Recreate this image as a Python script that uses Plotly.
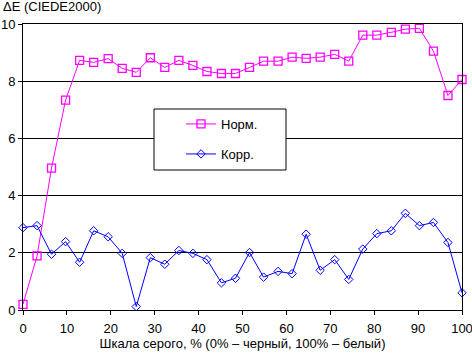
import plotly.graph_objects as go

gray_levels = [0, 3.2, 6.5, 9.7, 12.9, 16.1, 19.4, 22.6, 25.8, 29.0, 32.3, 35.5, 38.7, 41.9, 45.2, 48.4,
               51.6, 54.8, 58.1, 61.3, 64.5, 67.7, 71.0, 74.2, 77.4, 80.6, 83.9, 87.1, 90.3, 93.5, 96.8, 100]
norm_de = [0.20, 1.89, 4.96, 7.34, 8.73, 8.66, 8.79, 8.45, 8.31, 8.82, 8.48, 8.73, 8.55, 8.34, 8.27, 8.27,
           8.48, 8.70, 8.70, 8.84, 8.80, 8.84, 8.94, 8.70, 9.61, 9.61, 9.71, 9.82, 9.85, 9.05, 7.50, 8.06]
corr_de = [2.88, 2.95, 1.95, 2.39, 1.67, 2.77, 2.56, 1.98, 0.12, 1.83, 1.60, 2.08, 1.98, 1.76, 0.95, 1.11,
           2.01, 1.15, 1.35, 1.27, 2.65, 1.39, 1.76, 1.07, 2.13, 2.67, 2.77, 3.38, 2.95, 3.06, 2.36, 0.60]
x_ticks = [0, 10, 20, 30, 40, 50, 60, 70, 80, 90, 100]
y_ticks = [0, 2, 4, 6, 8, 10]

FONT = "Liberation Sans, Arial, sans-serif"
MAGENTA = "#FF00FF"
BLUE = "#0000FF"

W, H = 472, 353
L, R, T, B = 23, 10, 24, 43
pw, ph = W - L - R, H - T - B

def px2paper_x(px):
    return (px - L) / pw

def px2paper_y(py):
    return (H - B - py) / ph

fig = go.Figure()
fig.add_trace(go.Scatter(
    x=gray_levels, y=norm_de, mode="lines+markers", name="Норм.",
    line=dict(color=MAGENTA, width=1),
    marker=dict(symbol="square-open", size=8, color=MAGENTA, line=dict(width=1.3, color=MAGENTA)),
    legend="legend", cliponaxis=False,
))
fig.add_trace(go.Scatter(
    x=gray_levels, y=corr_de, mode="lines+markers", name="Корр.",
    line=dict(color=BLUE, width=1),
    marker=dict(symbol="diamond-open", size=6.5, color=BLUE, line=dict(width=1, color=BLUE)),
    legend="legend2", cliponaxis=False,
))

# legend frame
fig.add_shape(type="rect", xref="paper", yref="paper",
              x0=px2paper_x(154), x1=px2paper_x(286), y0=px2paper_y(170), y1=px2paper_y(109),
              line=dict(color="black", width=1), fillcolor="white", layer="above")

leg_common = dict(bgcolor="rgba(0,0,0,0)", borderwidth=0, font=dict(family=FONT, size=13, color="black"),
                  xanchor="left", yanchor="middle", itemwidth=30)
fig.update_layout(
    legend=dict(x=px2paper_x(181), y=px2paper_y(124), **leg_common),
    legend2=dict(x=px2paper_x(181), y=px2paper_y(154), **leg_common),
)

fig.add_annotation(text="ΔE (CIEDE2000)", xref="paper", yref="paper",
                   x=px2paper_x(1), y=px2paper_y(6), xanchor="left", yanchor="middle",
                   showarrow=False, font=dict(family=FONT, size=13, color="black"))

fig.update_xaxes(range=[0, 100], tickvals=x_ticks, showgrid=False, showline=True, linecolor="black",
                 linewidth=1, mirror=True, ticks="outside", ticklen=4, tickcolor="black", zeroline=False,
                 ticklabeloverflow="allow", ticklabelstandoff=2,
                 tickfont=dict(family=FONT, size=13, color="black"),
                 title=dict(text="Шкала серого, % (0% – черный, 100% – белый)",
                            font=dict(family=FONT, size=13, color="black"), standoff=2))
fig.update_yaxes(range=[0, 10], tickvals=y_ticks, showgrid=True, gridcolor="black", gridwidth=1,
                 showline=True, linecolor="black", linewidth=1, mirror=True, ticks="outside", ticklen=4,
                 ticklabeloverflow="allow",
                 tickcolor="black", zeroline=False, tickfont=dict(family=FONT, size=13, color="black"))

fig.update_layout(
    width=W, height=H, margin=dict(l=L, r=R, t=T, b=B, autoexpand=False),
    paper_bgcolor="white", plot_bgcolor="white",
    font=dict(family=FONT, size=13, color="black"),
    showlegend=True,
)

fig.write_html("out.html", config={"displayModeBar": False})
